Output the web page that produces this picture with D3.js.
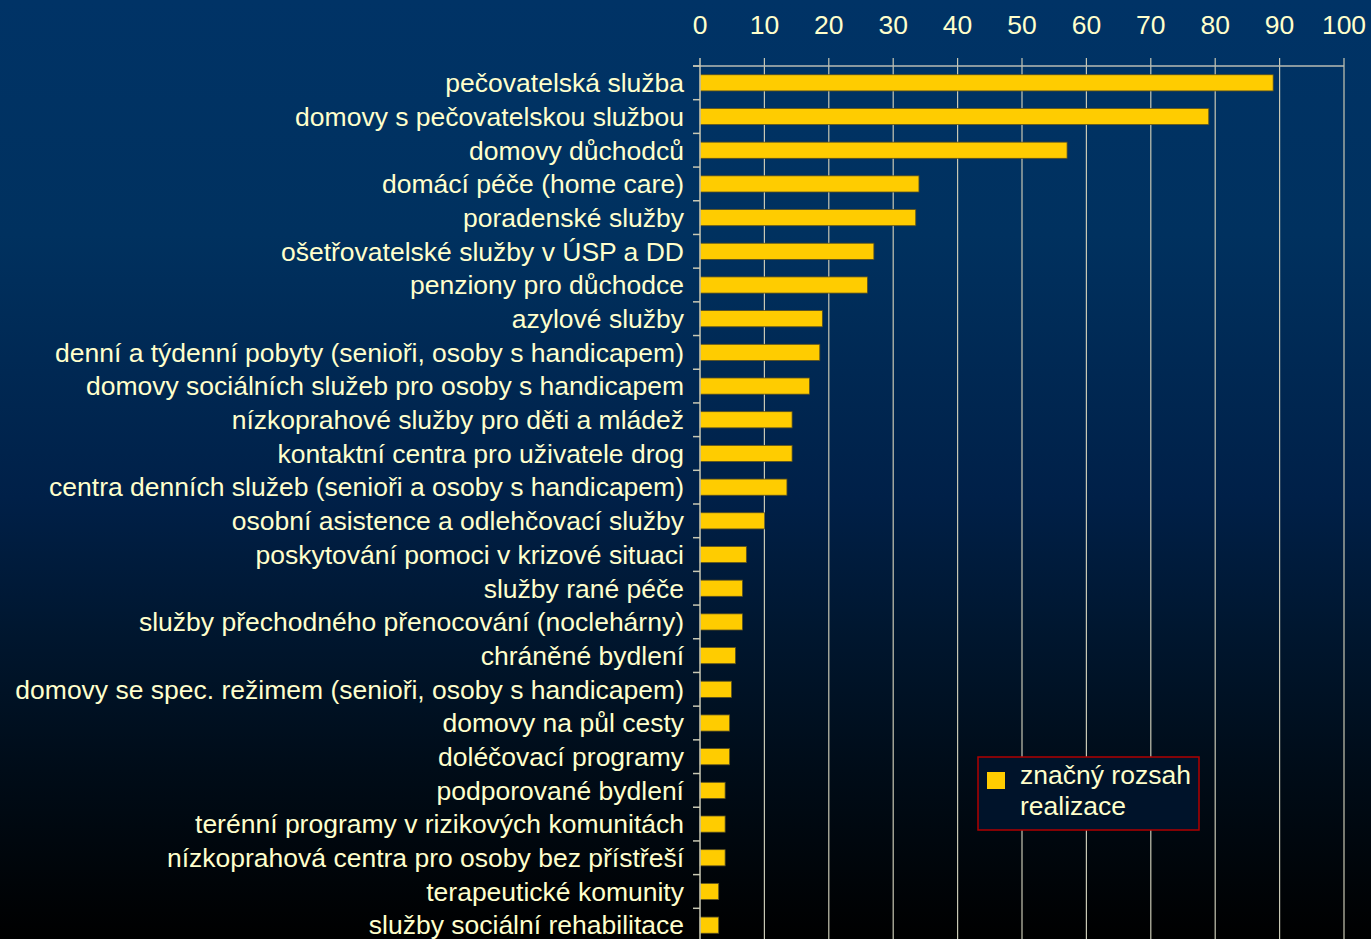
<!DOCTYPE html>
<html>
<head>
<meta charset="utf-8">
<script src="https://cdn.jsdelivr.net/npm/d3@7"></script>
<style>
  html, body { margin: 0; padding: 0; background: #000; overflow: hidden; }
  svg { display: block; }
  text { font-family: "Liberation Sans", Arial, sans-serif; fill: #ffffcc; }
</style>
</head>
<body>
<script>
// data
const categories = [
  'pečovatelská služba',
  'domovy s pečovatelskou službou',
  'domovy důchodců',
  'domácí péče (home care)',
  'poradenské služby',
  'ošetřovatelské služby v ÚSP a DD',
  'penziony pro důchodce',
  'azylové služby',
  'denní a týdenní pobyty (senioři, osoby s handicapem)',
  'domovy sociálních služeb pro osoby s handicapem',
  'nízkoprahové služby pro děti a mládež',
  'kontaktní centra pro uživatele drog',
  'centra denních služeb (senioři a osoby s handicapem)',
  'osobní asistence a odlehčovací služby',
  'poskytování pomoci v krizové situaci',
  'služby rané péče',
  'služby přechodného přenocování (noclehárny)',
  'chráněné bydlení',
  'domovy se spec. režimem (senioři, osoby s handicapem)',
  'domovy na půl cesty',
  'doléčovací programy',
  'podporované bydlení',
  'terénní programy v rizikových komunitách',
  'nízkoprahová centra pro osoby bez přístřeší',
  'terapeutické komunity',
  'služby sociální rehabilitace'
];
const values = [89, 79, 57, 34, 33.5, 27, 26, 19, 18.6, 17, 14.3, 14.3, 13.5, 10,
  7.2, 6.6, 6.6, 5.5, 4.9, 4.6, 4.6, 3.9, 3.9, 3.9, 2.9, 2.9];
const xTicks = [0, 10, 20, 30, 40, 50, 60, 70, 80, 90, 100];
const legendLines = ['značný rozsah', 'realizace'];

const width = 1371, height = 939;
const plotLeft = 700, plotRight = 1344, plotTop = 66, plotBottom = 942;
const fontSize = '26.5px';

const svg = d3.select('body').append('svg')
  .attr('width', width)
  .attr('height', height);

// navy to black background
const defs = svg.append('defs');
const grad = defs.append('linearGradient')
  .attr('id', 'bg')
  .attr('x1', 0).attr('y1', 0).attr('x2', 0).attr('y2', 1);
[['0%', '#003366'], ['25%', '#00315f'], ['53%', '#002048'],
 ['68%', '#00162e'], ['82%', '#000c18'], ['100%', '#000000']]
  .forEach(s => grad.append('stop').attr('offset', s[0]).attr('stop-color', s[1]));

svg.append('rect')
  .attr('width', width).attr('height', height)
  .attr('fill', 'url(#bg)');

const x = d3.scaleLinear().domain([0, 100]).range([plotLeft, plotRight]);
const y = d3.scaleBand().domain(categories).range([plotTop, plotBottom])
  .paddingInner(0.52).paddingOuter(0.26);

// vertical grid lines
svg.append('g')
  .selectAll('line')
  .data(xTicks.slice(1))
  .enter()
  .append('line')
  .attr('x1', d => x(d)).attr('x2', d => x(d))
  .attr('y1', plotTop - 8).attr('y2', height)
  .attr('stroke', '#c8c8b4')
  .attr('stroke-width', 1.2);

// top frame line
svg.append('line')
  .attr('x1', plotLeft - 7).attr('x2', plotRight)
  .attr('y1', plotTop).attr('y2', plotTop)
  .attr('stroke', '#b8bcb4')
  .attr('stroke-width', 1.5);

// top axis labels
svg.append('g')
  .selectAll('text')
  .data(xTicks)
  .enter()
  .append('text')
  .attr('x', d => x(d))
  .attr('y', 34)
  .attr('text-anchor', 'middle')
  .style('font-size', fontSize)
  .text(d => d);

// bars
svg.append('g')
  .selectAll('rect')
  .data(values)
  .enter()
  .append('rect')
  .attr('x', x(0))
  .attr('y', (d, i) => y(categories[i]))
  .attr('width', d => x(d) - x(0))
  .attr('height', y.bandwidth())
  .attr('fill', '#ffcc00')
  .attr('stroke', '#5a5020')
  .attr('stroke-width', 0.8);

// left axis with ticks between categories
const step = y.step();
svg.append('line')
  .attr('x1', plotLeft).attr('x2', plotLeft)
  .attr('y1', plotTop - 8).attr('y2', height)
  .attr('stroke', '#c8c8b4')
  .attr('stroke-width', 1.5);
svg.append('g')
  .selectAll('line')
  .data(d3.range(categories.length))
  .enter()
  .append('line')
  .attr('x1', plotLeft - 7).attr('x2', plotLeft)
  .attr('y1', i => plotTop + i * step).attr('y2', i => plotTop + i * step)
  .attr('stroke', '#c8c8b4')
  .attr('stroke-width', 1.5);

// category labels
svg.append('g')
  .selectAll('text')
  .data(categories)
  .enter()
  .append('text')
  .attr('x', 684)
  .attr('y', d => y(d) + y.bandwidth() / 2)
  .attr('dy', '0.35em')
  .attr('text-anchor', 'end')
  .style('font-size', fontSize)
  .text(d => d);

// legend
const lg = svg.append('g').attr('transform', 'translate(978,757)');
lg.append('rect')
  .attr('width', 221).attr('height', 73)
  .attr('fill', '#00132a')
  .attr('stroke', '#b00000')
  .attr('stroke-width', 1.5);
lg.append('rect')
  .attr('x', 9).attr('y', 15)
  .attr('width', 18).attr('height', 17)
  .attr('fill', '#ffcc00');
lg.selectAll('text.leg')
  .data(legendLines)
  .enter()
  .append('text')
  .attr('class', 'leg')
  .attr('x', 42)
  .attr('y', (d, i) => 27 + i * 31)
  .style('font-size', fontSize)
  .text(d => d);
</script>
</body>
</html>
